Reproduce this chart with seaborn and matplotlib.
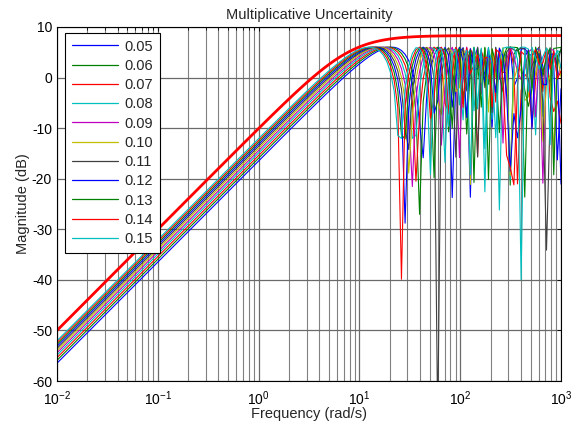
import numpy as np
import pandas as pd
import matplotlib
matplotlib.use("Agg")
import matplotlib.pyplot as plt
import seaborn as sns
from matplotlib.ticker import LogLocator, FixedLocator

# Extra time delay of each perturbed plant (legend values)
delay_labels = ["0.05", "0.06", "0.07", "0.08", "0.09", "0.10",
                "0.11", "0.12", "0.13", "0.14", "0.15"]
extra_delays = [0.05, 0.06, 0.07, 0.08, 0.09, 0.10, 0.11, 0.12, 0.13, 0.14, 0.15]
base_delay = 0.10

# MATLAB-style line colours, cycled over the perturbed plants
line_colors = ["#0000ff", "#008000", "#ff0000", "#00bfbf", "#bf00bf", "#bfbf00",
               "#404040", "#0000ff", "#008000", "#ff0000", "#00bfbf"]

# Uncertainty weight w(s) = k*s / (tau*s + 1)
weight_gain = 0.316
weight_tau = 0.1215

y_ticks = [-60, -50, -40, -30, -20, -10, 0, 10]

# frequency grid of the response evaluation (rad/s)
w = np.logspace(-2, 3, 140)

rows = []
for lab, d in zip(delay_labels, extra_delays):
    theta = base_delay + d
    l = np.abs(np.exp(-1j * w * theta) - 1.0)
    mag = 20 * np.log10(np.maximum(l, 1e-12))
    rows.append(pd.DataFrame({"freq": w, "mag": mag, "delay": lab}))
df = pd.concat(rows, ignore_index=True)

w_weight = np.logspace(-2, 3, 120)
wt = np.abs(weight_gain * 1j * w_weight / (weight_tau * 1j * w_weight + 1))
df_w = pd.DataFrame({"freq": w_weight, "mag": 20 * np.log10(wt)})

sns.set_theme(style="white")
plt.rcParams["font.family"] = ["Liberation Sans", "DejaVu Sans"]
plt.rcParams["axes.unicode_minus"] = False
plt.rcParams["mathtext.fontset"] = "custom"
plt.rcParams["mathtext.rm"] = "Liberation Sans"
plt.rcParams["mathtext.it"] = "Liberation Sans:italic"
plt.rcParams["mathtext.bf"] = "Liberation Sans:bold"

fig = plt.figure(figsize=(5.71, 4.25), dpi=100)
ax = fig.add_axes([0.0998, 0.1035, 0.8827, 0.833])

sns.lineplot(data=df, x="freq", y="mag", hue="delay", palette=line_colors,
             hue_order=delay_labels, linewidth=0.8, ax=ax, sort=False,
             estimator=None, legend=True)
sns.lineplot(data=df_w, x="freq", y="mag", color="#ff0000", linewidth=2.0,
             ax=ax, legend=False)

ax.set_xscale("log")
ax.set_xlim(1e-2, 1e3)
ax.set_ylim(-60, 10)
ax.yaxis.set_major_locator(FixedLocator(y_ticks))
ax.xaxis.set_major_locator(LogLocator(base=10, numticks=10))
ax.xaxis.set_minor_locator(LogLocator(base=10, subs=np.arange(2, 10), numticks=20))

ax.grid(True, which="major", axis="both", color="#6a6a6a", linewidth=0.9)
ax.grid(True, which="minor", axis="x", color="#808080", linewidth=0.8)
ax.set_axisbelow(True)

ax.tick_params(axis="both", which="both", direction="in", top=True, right=True,
               labelsize=10, colors="black", length=3, width=0.6)
ax.tick_params(axis="both", which="minor", length=2)
ax.tick_params(axis="x", which="major", pad=6)
for s in ax.spines.values():
    s.set_color("black")
    s.set_linewidth(0.8)

ax.set_title("Multiplicative Uncertainity", fontsize=10.5, pad=6)
ax.set_xlabel("Frequency (rad/s)", fontsize=10.5, labelpad=-1)
ax.set_ylabel("Magnitude (dB)", fontsize=10.5, labelpad=1)

leg = ax.legend(loc="upper left", bbox_to_anchor=(0.016, 0.983), fontsize=10.5,
                frameon=True, fancybox=False, edgecolor="black",
                handlelength=3.2, handletextpad=0.45, labelspacing=0.36,
                borderpad=0.45, borderaxespad=0.0)
leg.get_frame().set_linewidth(0.8)
leg.get_frame().set_alpha(1.0)
for h in leg.get_lines():
    h.set_linewidth(0.9)

fig.savefig("out.png", dpi=100)
